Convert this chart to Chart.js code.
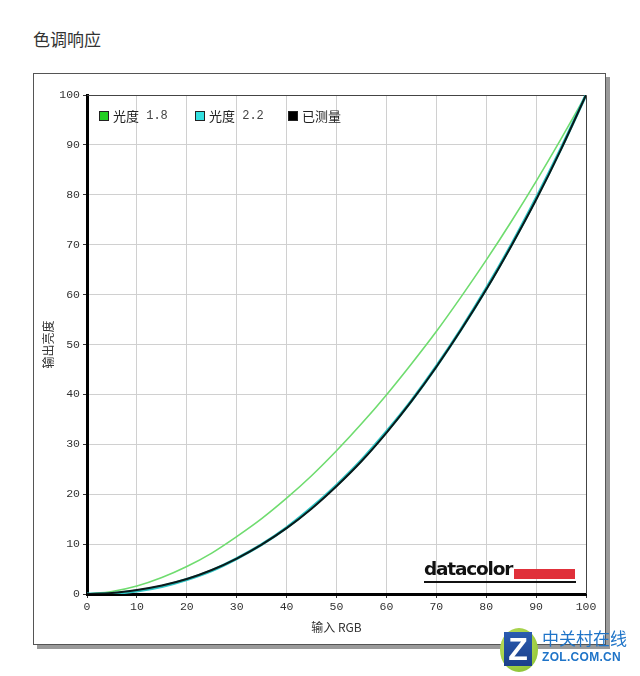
<!DOCTYPE html>
<html>
<head>
<meta charset="utf-8">
<script src="https://cdn.jsdelivr.net/npm/chart.js@4.4.1/dist/chart.umd.min.js"></script>
<style>
    body { margin: 0; width: 640px; height: 676px; background: #fff; position: relative; overflow: hidden; font-family: "Noto Sans CJK SC", sans-serif; }
    #title { position: absolute; left: 33px; top: 26px; font-size: 17px; color: #333; }
    #frame { position: absolute; left: 33px; top: 73px; width: 571px; height: 570px; border: 1px solid #555; box-shadow: 4px 4px 0 #9a9a9a; background: #fff; }
    #wrap { position: absolute; left: 0; top: 0; width: 640px; height: 676px; }
    #logo { position: absolute; left: 424px; top: 559px; width: 152px; height: 26px; }
    #logo .txt { position: absolute; left: 0; top: -1px; font: bold 18.5px "DejaVu Sans", sans-serif; letter-spacing: -1.2px; color: #111; }
    #logo .bar { position: absolute; left: 90px; top: 10px; width: 61px; height: 10px; background: #e0303a; }
    #logo .line { position: absolute; left: 0; top: 22px; width: 152px; height: 2px; background: #111; }
    #zol { position: absolute; left: 500px; top: 626px; width: 140px; height: 50px; }
    #zol .ball { position: absolute; left: 0; top: 2px; width: 38px; height: 44px; border-radius: 50%; background: radial-gradient(circle at 40% 40%, #cfe86a, #7dbb2a); }
    #zol .sq { position: absolute; left: 4px; top: 6px; width: 28px; height: 34px; background: linear-gradient(#2a5cb0, #1b3f8a); color: #fff; font: bold 32px "Liberation Sans", sans-serif; text-align: center; line-height: 34px; }
    #zol .cn { position: absolute; left: 42px; top: 2px; font-size: 17px; color: #1f74c8; white-space: nowrap; line-height: 20px; }
    #zol .en { position: absolute; left: 42px; top: 24px; font: bold 12px "Liberation Sans", sans-serif; color: #1f74c8; letter-spacing: 0.3px; }
</style>
</head>
<body>
<div id="title">色调响应</div>
<div id="frame"></div>
<div id="wrap"><canvas id="toneChart" width="640" height="676"></canvas></div>
<div id="logo"><span class="txt">datacolor</span><div class="bar"></div><div class="line"></div></div>
<div id="zol"><div class="ball"></div><div class="sq">Z</div><div class="cn">中关村在线</div><div class="en">ZOL.COM.CN</div></div>
<script>
let inputRGB = [0, 5, 10, 15, 20, 25, 30, 35, 40, 45, 50, 55, 60, 65, 70, 75, 80, 85, 90, 95, 100];
let gamma18 = [0, 0.5, 1.6, 3.3, 5.5, 8.2, 11.5, 15.1, 19.2, 23.7, 28.7, 34.1, 39.9, 46.1, 52.6, 59.6, 66.9, 74.6, 82.7, 91.2, 100];
let gamma22 = [0, 0.1, 0.6, 1.5, 2.9, 4.7, 7.1, 9.9, 13.3, 17.3, 21.8, 26.8, 32.5, 38.7, 45.6, 53.1, 61.2, 69.9, 79.3, 89.3, 100];
let measured = [0, 0.2, 0.8, 1.7, 3.0, 4.8, 7.1, 9.9, 13.2, 17.1, 21.6, 26.6, 32.3, 38.6, 45.5, 53.0, 61.0, 69.7, 79.0, 89.1, 100];
let seriesNames = ["光度 1.8", "光度 2.2", "已测量"];
let legendX = [99, 195, 288];

function toPoints(arr) {
    return inputRGB.map((x, i) => ({ x: x, y: arr[i] }));
}

// draws the thin top/right border and the legend inside the plot
let framePlugin = {
    id: "framePlugin",
    beforeDatasetsDraw(chart) {
        let a = chart.chartArea;
        let ctx = chart.ctx;
        ctx.save();
        ctx.strokeStyle = "#444";
        ctx.lineWidth = 1;
        ctx.beginPath();
        ctx.moveTo(a.left, a.top + 0.5);
        ctx.lineTo(a.right + 0.5, a.top + 0.5);
        ctx.lineTo(a.right + 0.5, a.bottom);
        ctx.stroke();
        ctx.restore();
    },
    afterDraw(chart) {
        let ctx = chart.ctx;
        let a = chart.chartArea;
        ctx.save();
        chart.data.datasets.forEach((ds, i) => {
            let x = legendX[i];
            let y = a.top + 16;
            ctx.fillStyle = ds.legendColor;
            ctx.fillRect(x, y, 9, 9);
            ctx.strokeStyle = "#222";
            ctx.lineWidth = 1;
            ctx.strokeRect(x + 0.5, y + 0.5, 9, 9);
            ctx.fillStyle = "#222";
            ctx.textBaseline = "middle";
            ctx.font = '13px "Noto Sans CJK SC", sans-serif';
            let parts = ds.label.split(" ");
            ctx.fillText(parts[0], x + 14, y + 5);
            if (parts[1]) {
                let w = ctx.measureText(parts[0]).width;
                ctx.font = '12px "Liberation Mono", monospace';
                ctx.fillStyle = "#444";
                ctx.fillText(" " + parts[1], x + 14 + w, y + 5);
            }
        });
        ctx.restore();
    },
};

let ctx = document.querySelector("#toneChart").getContext("2d");
let myChart = new Chart(ctx, {
    type: "line",
    data: {
        datasets: [
            {
                label: seriesNames[0],
                data: toPoints(gamma18),
                borderColor: "#6fdc6f",
                legendColor: "#22d022",
                borderWidth: 1.6,
                order: 3,
            },
            {
                label: seriesNames[1],
                data: toPoints(gamma22),
                borderColor: "#2cc4c4",
                legendColor: "#33e0e0",
                borderWidth: 3,
                order: 2,
            },
            {
                label: seriesNames[2],
                data: toPoints(measured),
                borderColor: "#0a1a1a",
                legendColor: "#000",
                borderWidth: 2,
                order: 1,
            },
        ],
    },
    options: {
        responsive: false,
        animation: false,
        layout: {
            padding: { left: 37, top: 95, right: 54, bottom: 37 },
        },
        elements: {
            point: { radius: 0 },
            line: { cubicInterpolationMode: "monotone" },
        },
        plugins: {
            legend: { display: false },
            tooltip: { enabled: false },
        },
        scales: {
            x: {
                type: "linear",
                min: 0,
                max: 100,
                afterFit: (s) => { s.height = 45; },
                ticks: {
                    stepSize: 10,
                    color: "#333",
                    padding: 2,
                    maxRotation: 0,
                    font: { family: '"Liberation Mono", monospace', size: 11.5 },
                },
                grid: { color: "#d0d0d0", tickColor: "#333", tickLength: 4 },
                border: { color: "#000", width: 3 },
                title: {
                    display: true,
                    text: "输入 RGB",
                    color: "#333",
                    padding: { top: 2 },
                    font: { family: '"Noto Sans CJK SC", sans-serif', size: 12 },
                },
            },
            y: {
                min: 0,
                max: 100,
                afterFit: (s) => { s.width = 50; },
                ticks: {
                    stepSize: 10,
                    color: "#333",
                    padding: 3,
                    font: { family: '"Liberation Mono", monospace', size: 11.5 },
                },
                grid: { color: "#d0d0d0", tickColor: "#333", tickLength: 4 },
                border: { color: "#000", width: 3 },
                title: {
                    display: true,
                    text: "输出亮度",
                    color: "#333",
                    padding: { bottom: 2 },
                    font: { family: '"Noto Sans CJK SC", sans-serif', size: 12 },
                },
            },
        },
    },
    plugins: [framePlugin],
});
</script>
</body>
</html>
